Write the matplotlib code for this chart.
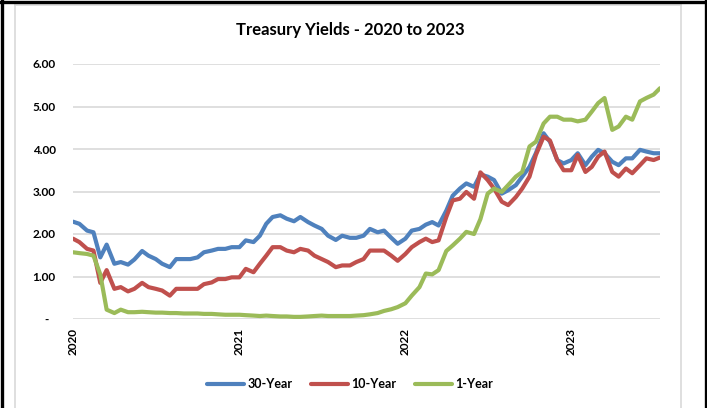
import matplotlib
matplotlib.use("Agg")
import matplotlib.pyplot as plt
import matplotlib.dates as mdates
import matplotlib.transforms as mtransforms
from matplotlib.lines import Line2D
import pandas as pd

plt.rcParams['font.family'] = ['Lato', 'DejaVu Sans']

# semi-monthly observation dates (1st and 15th of each month), Jan 2020 - Jul 2023
months = pd.date_range("2020-01-01", "2023-07-01", freq="MS")
dates = sorted(list(months) + list(months + pd.Timedelta(days=14)))

series_names = ["30-Year", "10-Year", "1-Year"]
series_colors = ["#4F81BD", "#C0504D", "#9BBB59"]

yield_30y = [
    2.29, 2.24, 2.08, 2.04, 1.45, 1.75, 1.30, 1.34, 1.28, 1.40, 1.60, 1.49,
    1.41, 1.30, 1.22, 1.41, 1.41, 1.41, 1.45, 1.57, 1.61, 1.65, 1.65, 1.69,
    1.69, 1.85, 1.81, 1.96, 2.24, 2.40, 2.44, 2.36, 2.30, 2.40, 2.28, 2.20,
    2.12, 1.96, 1.86, 1.96, 1.91, 1.91, 1.96, 2.12, 2.04, 2.08, 1.91, 1.77,
    1.89, 2.08, 2.12, 2.22, 2.28, 2.20, 2.55, 2.90, 3.07, 3.19, 3.11, 3.40,
    3.35, 3.27, 2.95, 3.03, 3.15, 3.35, 3.58, 3.90, 4.37, 4.17, 3.74, 3.66,
    3.74, 3.90, 3.62, 3.82, 3.98, 3.90, 3.70, 3.62, 3.78, 3.78, 3.98, 3.94,
    3.90, 3.90,
]
yield_10y = [
    1.89, 1.81, 1.65, 1.61, 0.85, 1.15, 0.71, 0.75, 0.65, 0.71, 0.85, 0.75,
    0.71, 0.67, 0.55, 0.71, 0.71, 0.71, 0.71, 0.82, 0.86, 0.94, 0.94, 0.98,
    0.98, 1.18, 1.10, 1.30, 1.49, 1.69, 1.69, 1.61, 1.57, 1.65, 1.61, 1.49,
    1.41, 1.34, 1.22, 1.26, 1.26, 1.34, 1.41, 1.61, 1.61, 1.61, 1.49, 1.37,
    1.53, 1.69, 1.81, 1.89, 1.81, 1.85, 2.40, 2.79, 2.83, 2.99, 2.83, 3.45,
    3.27, 3.07, 2.76, 2.68, 2.87, 3.07, 3.35, 3.86, 4.29, 4.20, 3.74, 3.50,
    3.50, 3.86, 3.46, 3.58, 3.82, 3.94, 3.46, 3.35, 3.54, 3.43, 3.62, 3.78,
    3.74, 3.80,
]
yield_1y = [
    1.57, 1.55, 1.53, 1.49, 1.05, 0.22, 0.14, 0.22, 0.16, 0.16, 0.17, 0.16,
    0.15, 0.15, 0.14, 0.14, 0.13, 0.13, 0.13, 0.12, 0.12, 0.11, 0.10, 0.10,
    0.10, 0.09, 0.08, 0.07, 0.08, 0.07, 0.06, 0.06, 0.05, 0.05, 0.06, 0.07,
    0.08, 0.07, 0.07, 0.07, 0.07, 0.08, 0.09, 0.11, 0.14, 0.19, 0.23, 0.28,
    0.37, 0.55, 0.75, 1.07, 1.05, 1.15, 1.60, 1.73, 1.89, 2.05, 2.00, 2.35,
    2.95, 3.07, 2.99, 3.15, 3.35, 3.46, 4.06, 4.17, 4.60, 4.76, 4.76, 4.69,
    4.69, 4.65, 4.69, 4.88, 5.08, 5.20, 4.45, 4.53, 4.76, 4.69, 5.12, 5.20,
    5.28, 5.43,
]

y_ticks = [0, 1, 2, 3, 4, 5, 6]
y_tick_labels = ["-", "1.00", "2.00", "3.00", "4.00", "5.00", "6.00"]
title_text = "Treasury Yields - 2020 to 2023"

W, H = 707, 408
fig = plt.figure(figsize=(W / 100, H / 100), dpi=100)
fig.patch.set_facecolor("white")

ax = fig.add_axes([73 / W, 1 - 319 / H, (660 - 73) / W, (319 - 64) / H])

for vals, name, col in zip([yield_30y, yield_10y, yield_1y], series_names, series_colors):
    ax.plot(dates, vals, color=col, lw=3.0, label=name,
            solid_joinstyle="round", solid_capstyle="round")

ax.set_ylim(0, 6)
ax.set_xlim(pd.Timestamp("2020-01-01"), dates[-1])
ax.set_yticks(y_ticks)
ax.set_yticklabels(y_tick_labels)
ax.grid(axis="y", color="#d9d9d9", lw=1.2)
ax.set_axisbelow(True)
for s in ax.spines.values():
    s.set_visible(False)

ax.xaxis.set_major_locator(mdates.YearLocator())
ax.xaxis.set_major_formatter(mdates.DateFormatter("%Y"))
ax.tick_params(axis="x", length=0, pad=6.5, labelsize=8.5, rotation=90)
ax.tick_params(axis="y", length=0, pad=12.5, labelsize=8.5)
for lab in ax.get_xticklabels() + ax.get_yticklabels():
    lab.set_fontweight("bold")
    lab.set_color("#000000")

# accounting-style dash for zero shifted left
zero_lab = ax.get_yticklabels()[0]
zero_lab.set_transform(zero_lab.get_transform() +
                       mtransforms.ScaledTranslation(-7 / 100, 0, fig.dpi_scale_trans))

fig.text(350 / W, 1 - 30 / H, title_text, ha="center", va="center",
         fontsize=12, fontweight="bold")

leg = fig.legend(loc="center", bbox_to_anchor=(350 / W, 1 - 384 / H), ncol=3,
                 frameon=False, handlelength=3.0, handletextpad=0.25,
                 columnspacing=1.45, prop={"weight": "bold", "size": 9})

# borders: inner light gray chart frame, outer black frame
gray = "#d9d9d9"
fig.add_artist(Line2D([15 / W, 15 / W], [0, 1 - 5 / H], color=gray, lw=1.2))
fig.add_artist(Line2D([681 / W, 681 / W], [0, 1 - 5 / H], color=gray, lw=1.2))
fig.add_artist(Line2D([15 / W, 681 / W], [1 - 5 / H, 1 - 5 / H], color=gray, lw=1.2))
fig.add_artist(Line2D([1.5 / W, 1.5 / W], [0, 1], color="black", lw=2.4))
fig.add_artist(Line2D([705.5 / W, 705.5 / W], [0, 1], color="black", lw=2.4))
fig.add_artist(Line2D([0, 1], [1 - 1.5 / H, 1 - 1.5 / H], color="black", lw=2.4))

fig.savefig("out.png", dpi=100)
